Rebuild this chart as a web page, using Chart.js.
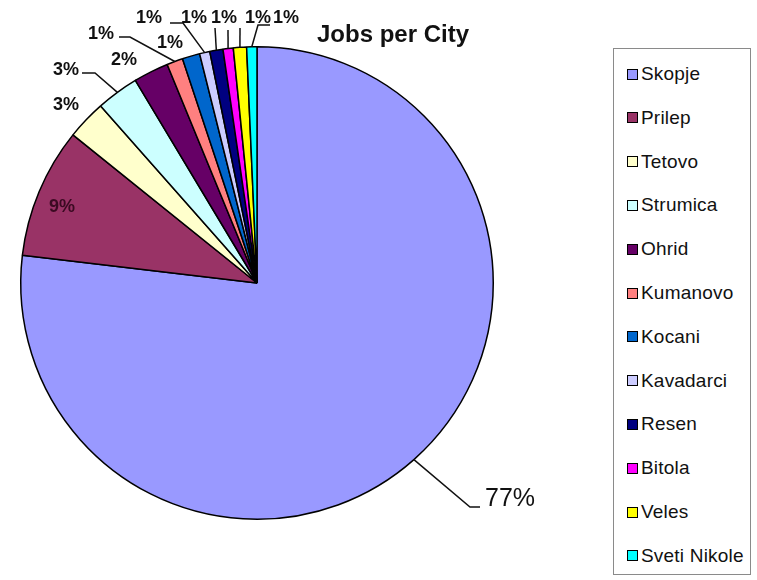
<!DOCTYPE html>
<html>
<head>
<meta charset="utf-8">
<script src="https://cdn.jsdelivr.net/npm/chart.js@4/dist/chart.umd.min.js"></script>
<style>
  body { margin: 0; background: #fff; }
  #wrap { position: relative; width: 757px; height: 580px; }
  #legend {
    position: absolute; left: 613px; top: 48px; width: 138px; height: 527px;
    border: 1px solid #8a8a8a; box-sizing: border-box; background: #fff;
    font-family: "Liberation Sans", Arial, sans-serif; font-size: 19px; color: #111;
  }
  .item { position: absolute; left: 13px; height: 22px; display: flex; align-items: center; white-space: nowrap; letter-spacing: 0.2px; }
  .swatch { width: 9px; height: 9px; border: 1px solid #000; margin-right: 3px; }
</style>
</head>
<body>
<div id="wrap">
  <canvas id="pie" width="757" height="580"></canvas>
  <div id="legend"></div>
</div>
<script>
const cities = ["Skopje", "Prilep", "Tetovo", "Strumica", "Ohrid", "Kumanovo",
  "Kocani", "Kavadarci", "Resen", "Bitola", "Veles", "Sveti Nikole"];
const jobs = [768, 89, 27, 29, 24, 11, 12, 7, 9, 7, 9, 7];
const colors = ["#9999FF", "#993366", "#FFFFCC", "#CCFFFF", "#660066", "#FF8080",
  "#0066CC", "#CCCCFF", "#000080", "#FF00FF", "#FFFF00", "#00FFFF"];

// where each percentage label sits, and the bends of its leader line (null = no line)
const labelSpots = [
  { x: 485, y: 499, align: "left", font: "25px 'Liberation Sans', Arial", lead: [[480, 507], [470, 507]] },
  { x: 62, y: 207, color: "#3b0a22", lead: null },
  { x: 66, y: 105, lead: null },
  { x: 66, y: 70, lead: [[82, 73], [95, 73]] },
  { x: 124, y: 60, lead: null },
  { x: 101, y: 34, lead: [[119, 37], [130, 37]] },
  { x: 170, y: 43, lead: null },
  { x: 149, y: 18, lead: [[170, 23], [183, 23]] },
  { x: 194, y: 18, lead: [[215, 28]] },
  { x: 224, y: 18, lead: [[228, 30]] },
  { x: 258, y: 18, lead: [[240, 28]] },
  { x: 286, y: 18, lead: [[270, 25], [258, 25]] }
];

const sliceLabels = {
  id: "sliceLabels",
  afterDatasetsDraw(chart) {
    const ctx = chart.ctx;
    const arcs = chart.getDatasetMeta(0).data;
    const total = jobs.reduce((a, b) => a + b, 0);
    ctx.save();
    ctx.fillStyle = "#111";
    ctx.font = "bold 24px 'Liberation Sans', Arial";
    ctx.textAlign = "center";
    ctx.textBaseline = "alphabetic";
    ctx.fillText("Jobs per City", 393, 42);

    arcs.forEach((arc, i) => {
      const spot = labelSpots[i];
      const mid = (arc.startAngle + arc.endAngle) / 2;
      const ex = arc.x + Math.cos(mid) * arc.outerRadius;
      const ey = arc.y + Math.sin(mid) * arc.outerRadius;
      if (spot.lead) {
        ctx.beginPath();
        ctx.moveTo(spot.lead[0][0], spot.lead[0][1]);
        spot.lead.slice(1).forEach(p => ctx.lineTo(p[0], p[1]));
        ctx.lineTo(ex, ey);
        ctx.strokeStyle = "#111";
        ctx.lineWidth = 1.5;
        ctx.stroke();
      }
      ctx.font = spot.font || "bold 18px 'Liberation Sans', Arial";
      ctx.fillStyle = spot.color || "#111";
      ctx.textAlign = spot.align || "center";
      ctx.textBaseline = "middle";
      ctx.fillText(Math.round(jobs[i] / total * 100) + "%", spot.x, spot.y);
    });
    ctx.restore();
  }
};

new Chart(document.getElementById("pie"), {
  type: "pie",
  data: {
    labels: cities,
    datasets: [{
      data: jobs,
      backgroundColor: colors,
      borderColor: "#000",
      borderWidth: 1.5
    }]
  },
  options: {
    responsive: false,
    animation: false,
    layout: { padding: { left: 20, top: 46, right: 263, bottom: 60 } },
    plugins: {
      legend: { display: false },
      tooltip: { enabled: false }
    }
  },
  plugins: [sliceLabels]
});

// legend box on the right
const legend = document.getElementById("legend");
cities.forEach((name, i) => {
  const item = document.createElement("div");
  item.className = "item";
  item.style.top = (14 + i * 43.8) + "px";
  const sw = document.createElement("span");
  sw.className = "swatch";
  sw.style.background = colors[i];
  item.appendChild(sw);
  item.appendChild(document.createTextNode(name));
  legend.appendChild(item);
});
</script>
</body>
</html>
